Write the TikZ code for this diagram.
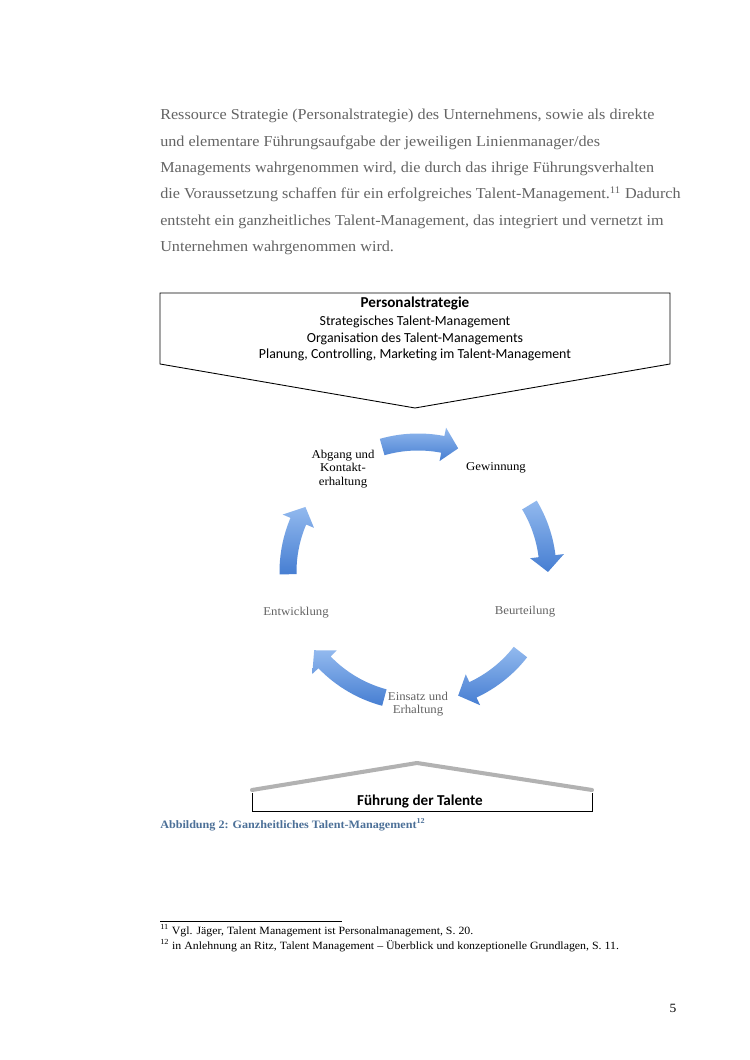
\documentclass[tikz,border=0pt]{standalone}
\usepackage{fontspec}
\setmainfont[FakeStretch=1.07]{Liberation Serif}
\newfontfamily\calibri{Carlito}
\usetikzlibrary{calc}
\definecolor{blurtext}{RGB}{100,100,100}
\definecolor{arrowlight}{RGB}{146,185,238}
\definecolor{arrowdark}{RGB}{70,126,210}
\definecolor{captionblue}{RGB}{76,112,152}
\definecolor{roofgray}{RGB}{178,178,178}
\tikzset{
  paraline/.style={anchor=base west, inner sep=0pt, font=\fontsize{12}{14}\selectfont, text=blurtext},
  boxtext/.style={inner sep=0pt, font=\calibri\fontsize{11}{13}\selectfont},
  boxtitle/.style={inner sep=0pt, font=\calibri\bfseries\fontsize{12}{14}\selectfont},
  cyclabel/.style={inner sep=0pt, align=center, font=\fontsize{9.5}{10.5}\selectfont},
  blurlabel/.style={cyclabel, text=blurtext},
  arrowfill/.style={top color=arrowlight, bottom color=arrowdark, draw=none},
  outline/.style={draw=black, line width=0.7pt},
  roof/.style={draw=roofgray, line width=3.2pt, line cap=round, line join=round},
  foot/.style={anchor=west, inner sep=0pt, font=\fontsize{8.8}{10}\selectfont}
}
\newcommand\cycarrow[2]{%
  \pgfmathsetmacro\headbase{#2+7}%
  \path[arrowfill]
    ($(C)+(#1:138.5)$) arc[start angle=#1, end angle=\headbase, radius=138.5]
    -- ($(C)+(\headbase:147)$)
    -- ($(C)+(#2:130)$)
    -- ($(C)+(\headbase:113)$)
    -- ($(C)+(\headbase:121.5)$)
    arc[start angle=\headbase, end angle=#1, radius=121.5]
    -- cycle;
}
\begin{document}
\begin{tikzpicture}[x=0.7937pt, y=0.7937pt]
\useasboundingbox[fill=white] (0,0) rectangle (750,1060);

% paragraph (blurred in the reference)
\node[paraline] (p1) at (160,940) {Ressource Strategie (Personalstrategie) des Unternehmens, sowie als direkte};
\node[paraline] (p2) at (160,913) {und elementare Führungsaufgabe der jeweiligen Linienmanager/des};
\node[paraline] (p3) at (160,887) {Managements wahrgenommen wird, die durch das ihrige Führungsverhalten};
\node[paraline] (p4) at (160,861) {die Voraussetzung schaffen für ein erfolgreiches Talent-Management.\textsuperscript{11} Dadurch};
\node[paraline] (p5) at (160,834) {entsteht ein ganzheitliches Talent-Management, das integriert und vernetzt im};
\node[paraline] (p6) at (160,808) {Unternehmen wahrgenommen wird.};

% Personalstrategie box
\coordinate (tl) at (160,767);
\coordinate (tr) at (670,767);
\coordinate (rr) at (670,696);
\coordinate (tip) at (415,652);
\coordinate (ll) at (160,696);
\draw[outline] (tl) -- (tr) -- (rr) -- (tip) -- (ll) -- cycle;
\node[boxtitle] (pst) at (415,757) {Personalstrategie};
\node[boxtext] (ps1) at (415,738) {Strategisches Talent-Management};
\node[boxtext] (ps2) at (415,721) {Organisation des Talent-Managements};
\node[boxtext] (ps3) at (415,705) {Planung, Controlling, Marketing im Talent-Management};

% cycle
\coordinate (C) at (418,488);
\cycarrow{106}{72}
\cycarrow{31}{0}
\cycarrow{-38}{-72}
\cycarrow{-105}{-143}
\cycarrow{181}{150}

\node[cyclabel] (gew) at (496,592) {Gewinnung};
\node[cyclabel] (abg) at (343,591) {Abgang und\\Kontakt-\\erhaltung};
\node[blurlabel] (beu) at (525,448) {Beurteilung};
\node[blurlabel] (ent) at (296,447) {Entwicklung};
\node[blurlabel] (ein) at (418,356) {Einsatz und\\Erhaltung};

% Führung der Talente
\coordinate (rl) at (252,270);
\coordinate (rt) at (417,297);
\coordinate (rrt) at (592,270);
\draw[roof] (rl) -- (rt) -- (rrt);
\coordinate (bl1) at (252,267);
\coordinate (bl2) at (252,249);
\coordinate (br2) at (592,249);
\coordinate (br1) at (592,267);
\draw[outline] (bl1) -- (bl2) -- (br2) -- (br1);
\node[boxtitle] (fdt) at (420,259) {Führung der Talente};

% caption
\node[anchor=west, inner sep=0pt, text=captionblue, font=\bfseries\fontsize{9}{10}\selectfont] (cap) at (160,235) {Abbildung 2: Ganzheitliches Talent-Management\textsuperscript{12}};

% footnotes
\coordinate (fr1) at (160,139);
\coordinate (fr2) at (342,139);
\draw[line width=0.6pt] (fr1) -- (fr2);
\node[foot] (fn1) at (160,129) {\textsuperscript{11} Vgl. Jäger, Talent Management ist Personalmanagement, S. 20.};
\node[foot] (fn2) at (160,114) {\textsuperscript{12} in Anlehnung an Ritz, Talent Management – Überblick und konzeptionelle Grundlagen, S. 11.};

% page number
\node[inner sep=0pt, font=\fontsize{10}{12}\selectfont] (pg) at (673,52) {5};
\end{tikzpicture}
\end{document}
